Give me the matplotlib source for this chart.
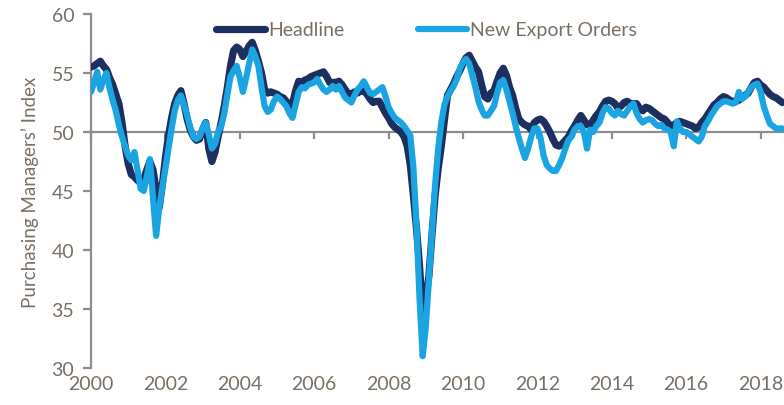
import matplotlib
matplotlib.use("Agg")
import matplotlib.pyplot as plt
import numpy as np

# Monthly PMI readings, Jan 2000 onward
headline = [
    55.5, 55.6, 55.8, 56.0, 55.6, 55.3, 54.6, 54.0, 53.2, 52.4, 50.8, 48.8,   # 2000
    47.3, 46.4, 46.2, 45.9, 45.7, 46.0, 46.8, 47.5, 46.8, 45.2, 43.6, 45.5,   # 2001
    47.8, 49.7, 51.2, 52.4, 53.1, 53.5, 52.4, 51.1, 50.2, 49.6, 49.3, 49.4,   # 2002
    50.2, 50.8, 48.6, 47.5, 48.3, 49.6, 50.8, 52.2, 53.8, 55.6, 56.9, 57.2,   # 2003
    57.0, 56.4, 56.8, 57.3, 57.6, 56.9, 56.0, 55.0, 53.6, 53.3, 53.4, 53.3,   # 2004
    53.2, 53.0, 52.9, 52.6, 51.9, 52.4, 53.5, 54.3, 54.2, 54.4, 54.5, 54.7,   # 2005
    54.8, 54.9, 55.0, 55.1, 54.7, 54.2, 54.2, 54.2, 54.3, 54.0, 53.6, 53.2,   # 2006
    53.2, 53.4, 53.3, 53.5, 53.5, 53.2, 52.8, 52.5, 52.6, 52.6, 52.1, 51.6,   # 2007
    51.2, 50.7, 50.4, 50.2, 50.0, 49.6, 48.8, 47.2, 44.6, 41.8, 38.6, 34.5,   # 2008
    35.8, 37.8, 41.3, 44.6, 46.9, 48.8, 51.0, 53.1, 53.6, 54.1, 54.7, 55.2,   # 2009
    55.8, 56.3, 56.5, 56.0, 55.5, 55.1, 54.0, 53.0, 52.8, 53.3, 53.5, 54.3,   # 2010
    55.0, 55.4, 54.8, 53.8, 53.1, 52.0, 51.1, 50.8, 50.6, 50.5, 50.2, 50.8,   # 2011
    51.0, 51.1, 50.9, 50.5, 50.0, 49.4, 48.9, 48.8, 49.0, 49.3, 49.6, 50.1,   # 2012
    50.5, 51.0, 51.4, 51.0, 50.6, 50.6, 51.0, 51.4, 51.7, 52.2, 52.6, 52.7,   # 2013
    52.6, 52.4, 52.0, 52.2, 52.5, 52.6, 52.4, 52.4, 52.4, 52.0, 51.8, 52.1,   # 2014
    52.0, 51.8, 51.6, 51.4, 51.2, 51.1, 50.8, 50.5, 50.6, 50.8, 50.9, 50.8,   # 2015
    50.7, 50.6, 50.5, 50.3, 50.4, 50.8, 51.1, 51.5, 51.9, 52.3, 52.5, 52.8,   # 2016
    53.0, 52.9, 52.7, 52.6, 52.6, 52.7, 52.9, 53.1, 53.3, 53.8, 54.2, 54.3,   # 2017
    54.0, 53.8, 53.5, 53.2, 53.0, 52.9, 52.7, 52.5,                           # 2018
]

new_export_orders = [
    53.4, 54.2, 55.1, 53.6, 54.4, 55.0, 53.7, 52.7, 51.8, 50.6, 49.6, 48.8,   # 2000
    48.0, 47.6, 48.3, 46.8, 45.2, 45.0, 46.2, 47.7, 44.5, 41.2, 43.5, 45.3,   # 2001
    46.9, 48.6, 50.3, 51.8, 52.7, 53.1, 52.3, 51.4, 50.4, 49.6, 49.4, 49.6,   # 2002
    50.3, 50.8, 49.8, 48.6, 49.0, 50.0, 50.5, 51.6, 53.2, 54.7, 55.2, 55.6,   # 2003
    54.6, 53.4, 54.5, 55.8, 57.0, 56.4, 55.6, 53.8, 52.2, 51.7, 51.9, 52.6,   # 2004
    53.0, 52.8, 52.5, 52.2, 51.6, 51.2, 52.3, 53.4, 53.8, 53.7, 54.0, 54.1,   # 2005
    54.2, 54.5, 54.0, 53.6, 53.4, 53.6, 53.9, 53.6, 53.9, 53.4, 52.9, 52.7,   # 2006
    52.5, 53.1, 53.6, 53.9, 54.3, 53.8, 53.3, 53.2, 53.4, 53.6, 53.8, 53.0,   # 2007
    52.1, 51.6, 51.2, 51.0, 50.8, 50.5, 50.1, 49.7, 47.0, 42.0, 35.8, 31.0,   # 2008
    33.5, 37.5, 41.5, 45.5, 48.6, 50.8, 52.3, 53.0, 53.5, 53.9, 54.5, 55.4,   # 2009
    55.9, 56.2, 55.8, 54.8, 53.8, 52.6, 51.9, 51.4, 51.4, 51.8, 52.2, 53.3,   # 2010
    54.2, 54.4, 53.6, 52.6, 51.6, 50.5, 49.5, 48.6, 47.8, 48.6, 49.6, 50.3,   # 2011
    50.3, 49.5, 48.0, 47.2, 46.9, 46.7, 46.7, 47.2, 47.8, 48.6, 49.3, 49.6,   # 2012
    50.2, 50.5, 50.5, 50.0, 48.6, 50.2, 50.0, 50.5, 50.8, 51.6, 52.1, 52.0,   # 2013
    51.6, 51.4, 51.8, 51.5, 51.4, 51.8, 52.2, 52.4, 51.6, 51.1, 50.8, 51.0,   # 2014
    51.1, 51.0, 50.7, 50.5, 50.6, 50.3, 50.2, 50.0, 48.8, 50.9, 50.3, 50.0,   # 2015
    50.0, 49.8, 49.6, 49.4, 49.2, 49.6, 50.5, 50.9, 51.4, 51.8, 52.2, 52.4,   # 2016
    52.6, 52.6, 52.5, 52.4, 52.5, 53.4, 52.8, 53.0, 53.4, 53.8, 54.0, 54.1,   # 2017
    53.4, 52.2, 51.4, 50.7, 50.5, 50.3, 50.3, 50.3,                           # 2018
]

start_year = 2000
year_ticks = [2000, 2002, 2004, 2006, 2008, 2010, 2012, 2014, 2016, 2018]
y_ticks = [30, 35, 40, 45, 50, 55, 60]
series_labels = ["Headline", "New Export Orders"]

DARK = "#1d2f5f"
LIGHT = "#1aa5e2"
TEXT = "#7a6f64"
AXIS = "#8d8d8d"

plt.rcParams["font.family"] = ["Lato", "DejaVu Sans"]

dates = start_year + np.arange(len(headline)) / 12.0

fig = plt.figure(figsize=(7.84, 4.06), dpi=100)
ax = fig.add_axes([91 / 784, 1 - 369 / 406, 693 / 784, 354 / 406])

ax.plot(dates, headline, color=DARK, lw=5.2, solid_capstyle="round",
        solid_joinstyle="round", label=series_labels[0], zorder=3)
ax.plot(dates, new_export_orders, color=LIGHT, lw=4.5, solid_capstyle="round",
        solid_joinstyle="round", label=series_labels[1], zorder=4)

ax.set_xlim(start_year, start_year + 693 / 37.2)
ax.set_ylim(30, 60)

# axis lines: vertical on the left, horizontal through the 50 mark
for side in ("top", "right"):
    ax.spines[side].set_visible(False)
ax.spines["left"].set_color(AXIS)
ax.spines["left"].set_linewidth(1.6)
ax.spines["bottom"].set_position(("data", 50))
ax.spines["bottom"].set_color(AXIS)
ax.spines["bottom"].set_linewidth(1.6)
ax.spines["bottom"].set_zorder(2)

ax.set_yticks(y_ticks)
ax.set_xticks(year_ticks)
ax.tick_params(axis="y", direction="out", length=6, width=1.6, color=AXIS,
               labelsize=14, labelcolor=TEXT, pad=6)
ax.tick_params(axis="x", direction="out", length=5, width=1.6, color=AXIS,
               labelbottom=False)

# year labels sit below the plot, not on the 50 line
for yr in year_ticks:
    ax.text(yr, -0.045, str(yr), transform=ax.get_xaxis_transform(),
            ha="center", va="center", fontsize=14, color=TEXT)

ax.set_ylabel("Purchasing Managers\u2019 Index", fontsize=13.5, color=TEXT,
              labelpad=9)

leg = ax.legend(loc="center", bbox_to_anchor=(0.544, 0.924),
                bbox_transform=fig.transFigure, ncol=2, frameon=False,
                fontsize=14, handlelength=2.5, handletextpad=0.15,
                columnspacing=3.8)
for txt in leg.get_texts():
    txt.set_color(TEXT)

fig.savefig("out.png", dpi=100)
